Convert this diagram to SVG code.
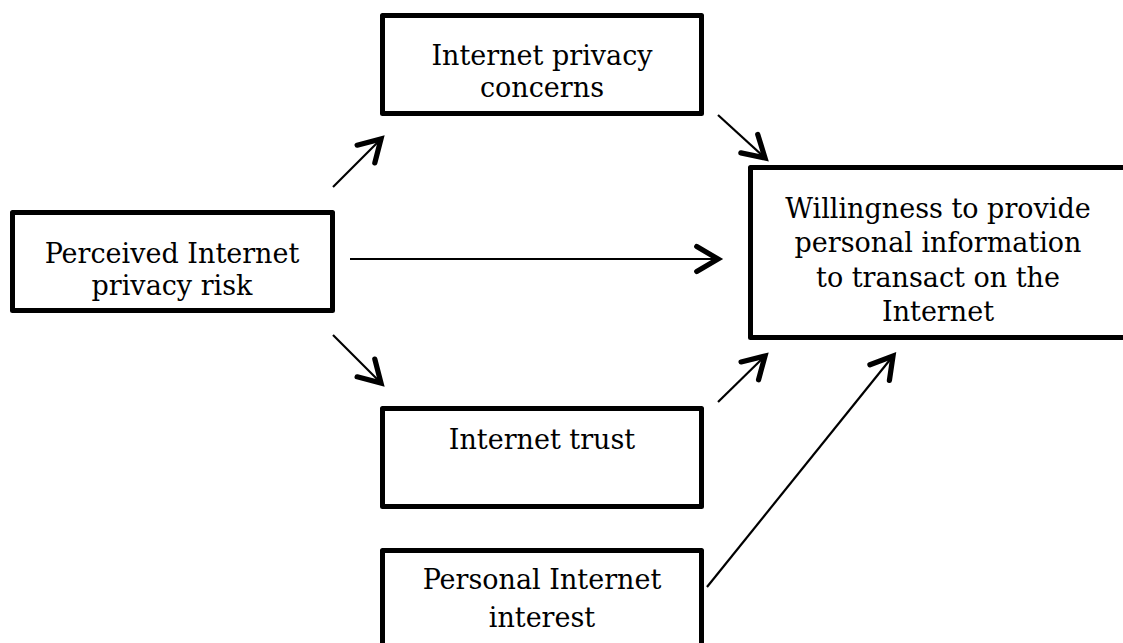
<svg xmlns="http://www.w3.org/2000/svg" width="1123" height="643" viewBox="0 0 1123 643">
  <style>
    .box { fill: #ffffff; stroke: #000000; stroke-width: 5; stroke-linejoin: round; }
    .lbl { font-family: "DejaVu Serif", "Liberation Serif", serif; font-size: 27px; fill: #000000; text-anchor: middle; }
    .conn { stroke: #000000; stroke-width: 2.2; fill: none; marker-end: url(#arrow); }
  </style>
  <defs>
    <marker id="arrow" markerUnits="userSpaceOnUse" markerWidth="40" markerHeight="40" viewBox="-24 -16 30 32" refX="0" refY="0" orient="auto">
      <path d="M -17 -10 L 0 0 L -17 10" fill="none" stroke="#000000" stroke-width="4.2" stroke-linecap="round" stroke-linejoin="miter"/>
    </marker>
  </defs>
  <rect x="0" y="0" width="1123" height="643" fill="#ffffff"/>

  <g id="node-concerns">
    <rect class="box" x="382.5" y="15.5" width="319" height="98"/>
    <text class="lbl" x="542" y="65">Internet privacy</text>
    <text class="lbl" x="542" y="97">concerns</text>
  </g>

  <g id="node-risk">
    <rect class="box" x="12.5" y="212.5" width="320" height="98"/>
    <text class="lbl" x="172" y="263">Perceived Internet</text>
    <text class="lbl" x="172" y="295">privacy risk</text>
  </g>

  <g id="node-willingness">
    <rect class="box" x="750.5" y="167.5" width="400" height="170"/>
    <text class="lbl" x="938" y="218">Willingness to provide</text>
    <text class="lbl" x="938" y="252">personal information</text>
    <text class="lbl" x="938" y="287">to transact on the</text>
    <text class="lbl" x="938" y="321">Internet</text>
  </g>

  <g id="node-trust">
    <rect class="box" x="382.5" y="408.5" width="319" height="98"/>
    <text class="lbl" x="542" y="449">Internet trust</text>
  </g>

  <g id="node-interest">
    <rect class="box" x="382.5" y="550.5" width="319" height="110"/>
    <text class="lbl" x="542" y="589">Personal Internet</text>
    <text class="lbl" x="542" y="627">interest</text>
  </g>

  <g id="connectors">
    <line class="conn" x1="333" y1="187" x2="381" y2="139"/>
    <line class="conn" x1="350" y1="259" x2="718" y2="259"/>
    <line class="conn" x1="333" y1="335" x2="381" y2="383"/>
    <line class="conn" x1="718" y1="115" x2="765" y2="158"/>
    <line class="conn" x1="718" y1="402" x2="765" y2="356"/>
    <line class="conn" x1="707" y1="587" x2="893" y2="356"/>
  </g>
</svg>
